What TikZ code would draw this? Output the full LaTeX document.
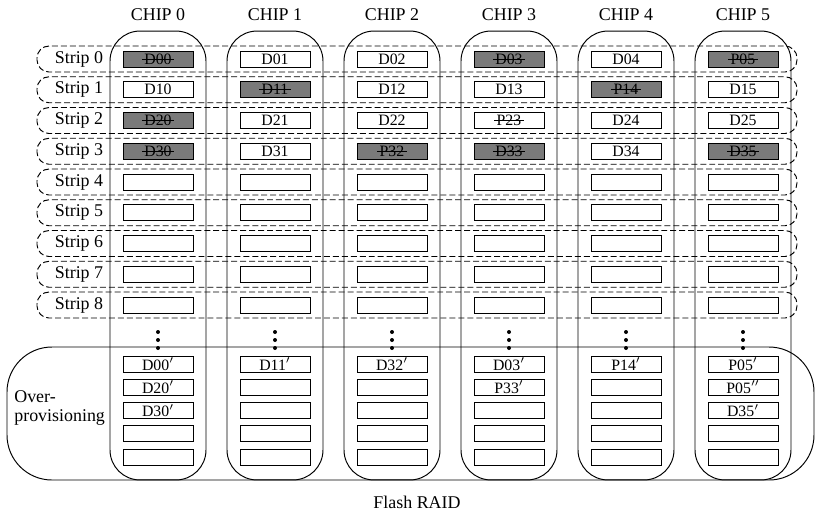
\documentclass[tikz,border=0pt]{standalone}
\usepackage{fontspec}
\setmainfont{Liberation Serif}
\usepackage{tikz}

\newsavebox\gonebox
\newcommand{\gone}[1]{\sbox\gonebox{#1}\rlap{\hspace{-1.5pt}\rule[0.3em]{\dimexpr\wd\gonebox+3pt\relax}{0.5pt}}\usebox\gonebox}

\begin{document}
\begin{tikzpicture}[x=0.02cm,y=-0.02cm,line width=0.55pt,
  chip/.style={draw,rounded corners=0.6cm,minimum width=1.92cm,minimum height=8.98cm,inner sep=0pt},
  stripbox/.style={draw,dash pattern=on 3.4pt off 1.7pt,rounded corners=0.24cm},
  opbox/.style={draw,rounded corners=0.9cm},
  cell/.style={draw,fill=white,minimum width=1.4cm,minimum height=0.32cm,inner sep=0pt,font=\fontsize{9}{9}\selectfont},
  dead/.style={cell,fill=black!52},
  lbl/.style={font=\fontsize{10.2}{11}\selectfont}]
  \useasboundingbox (0,0) rectangle (816,512);

  \foreach \i in {0,...,5} {
    \node[chip] (chip\i) at (158+117*\i,255.5) {};
    \node[lbl] (name\i) at (158+117*\i,15) {CHIP \i};
  }
  \draw[opbox] (7,347) rectangle (814,480);
  \foreach \r in {0,...,8} {
    \coordinate (row\r) at (0,59+30.75*\r);
    \draw[stripbox] (37,46+30.75*\r) rectangle (797,72+30.75*\r);
    \node[lbl] (strip\r) at (79,59+30.75*\r) {Strip \r};
  }
  \foreach \k in {0,...,4}
    \coordinate (op\k) at (0,364+23.25*\k);

  % strips 0-3
  \node[dead] (c00) at (chip0 |- row0) {\gone{D00}};
  \node[cell] (c01) at (chip1 |- row0) {D01};
  \node[cell] (c02) at (chip2 |- row0) {D02};
  \node[dead] (c03) at (chip3 |- row0) {\gone{D03}};
  \node[cell] (c04) at (chip4 |- row0) {D04};
  \node[dead] (c05) at (chip5 |- row0) {\gone{P05}};
  \node[cell] (c10) at (chip0 |- row1) {D10};
  \node[dead] (c11) at (chip1 |- row1) {\gone{D11}};
  \node[cell] (c12) at (chip2 |- row1) {D12};
  \node[cell] (c13) at (chip3 |- row1) {D13};
  \node[dead] (c14) at (chip4 |- row1) {\gone{P14}};
  \node[cell] (c15) at (chip5 |- row1) {D15};
  \node[dead] (c20) at (chip0 |- row2) {\gone{D20}};
  \node[cell] (c21) at (chip1 |- row2) {D21};
  \node[cell] (c22) at (chip2 |- row2) {D22};
  \node[cell] (c23) at (chip3 |- row2) {\gone{P23}};
  \node[cell] (c24) at (chip4 |- row2) {D24};
  \node[cell] (c25) at (chip5 |- row2) {D25};
  \node[dead] (c30) at (chip0 |- row3) {\gone{D30}};
  \node[cell] (c31) at (chip1 |- row3) {D31};
  \node[dead] (c32) at (chip2 |- row3) {\gone{P32}};
  \node[dead] (c33) at (chip3 |- row3) {\gone{D33}};
  \node[cell] (c34) at (chip4 |- row3) {D34};
  \node[dead] (c35) at (chip5 |- row3) {\gone{D35}};

  % empty pages, dots, spare pages
  \foreach \i in {0,...,5} {
    \foreach \r in {4,...,8}
      \node[cell] (c\r\i) at (chip\i |- row\r) {};
    \foreach \d in {332,340,348}
      \fill (158+117*\i,\d) circle (0.04cm);
    \foreach \k in {0,...,4}
      \node[cell] (o\k\i) at (chip\i |- op\k) {};
  }
  \node[cell] (d00p) at (chip0 |- op0) {D00$'$};
  \node[cell] (d20p) at (chip0 |- op1) {D20$'$};
  \node[cell] (d30p) at (chip0 |- op2) {D30$'$};
  \node[cell] (d11p) at (chip1 |- op0) {D11$'$};
  \node[cell] (d32p) at (chip2 |- op0) {D32$'$};
  \node[cell] (d03p) at (chip3 |- op0) {D03$'$};
  \node[cell] (p33p) at (chip3 |- op1) {P33$'$};
  \node[cell] (p14p) at (chip4 |- op0) {P14$'$};
  \node[cell] (p05p) at (chip5 |- op0) {P05$'$};
  \node[cell] (p05pp) at (chip5 |- op1) {P05$''$};
  \node[cell] (d35p) at (chip5 |- op2) {D35$'$};

  \node[lbl,align=left,anchor=west] (over) at (8,408) {Over-\\provisioning};
  \node[lbl] (raid) at (417,502) {Flash RAID};
\end{tikzpicture}
\end{document}
